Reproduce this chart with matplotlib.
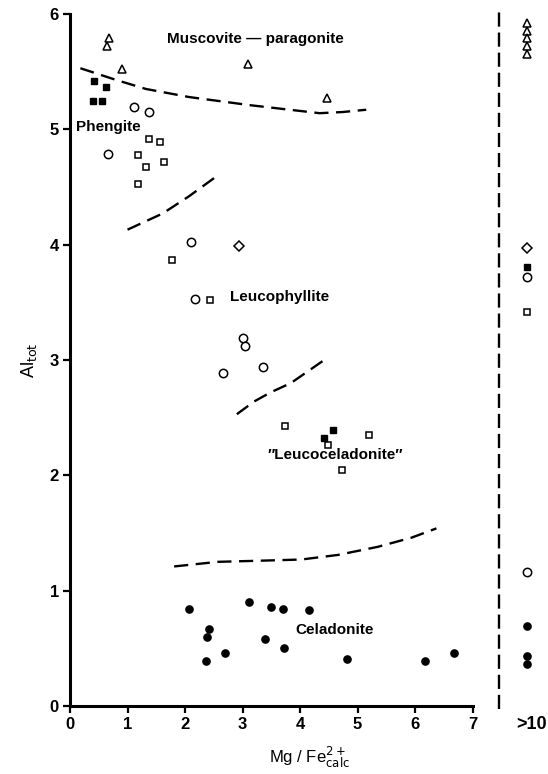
import matplotlib
matplotlib.use("Agg")
import matplotlib.pyplot as plt

# ---------------- data (Mg/Fe2+calc , Al_tot) ----------------
tri_x = [0.67, 0.65, 0.91, 3.09, 4.47]
tri_y = [5.79, 5.72, 5.52, 5.57, 5.27]

fsq_x = [0.41, 0.63, 0.40, 0.55, 4.58, 4.41]
fsq_y = [5.42, 5.37, 5.25, 5.25, 2.39, 2.32]

ocir_x = [1.12, 1.37, 0.66, 2.10, 2.18, 3.01, 3.04, 2.66, 3.36]
ocir_y = [5.19, 5.15, 4.79, 4.02, 3.53, 3.19, 3.12, 2.89, 2.94]

osq_x = [1.37, 1.57, 1.18, 1.63, 1.32, 1.19, 1.78, 2.44, 3.74, 4.48, 5.19, 4.73]
osq_y = [4.92, 4.89, 4.78, 4.72, 4.67, 4.53, 3.87, 3.52, 2.43, 2.26, 2.35, 2.05]

dia_x = [2.94]
dia_y = [3.99]

fcir_x = [2.07, 3.11, 3.49, 3.71, 4.15, 2.41, 2.38, 3.39, 3.72, 2.69, 2.36, 4.81, 6.18, 6.68]
fcir_y = [0.84, 0.90, 0.86, 0.84, 0.83, 0.67, 0.60, 0.58, 0.50, 0.46, 0.39, 0.41, 0.39, 0.46]

# values with Mg/Fe2+calc > 10
gt10_tri_y = [5.92, 5.85, 5.79, 5.72, 5.65]
gt10_dia_y = [3.97]
gt10_fsq_y = [3.81]
gt10_ocir_y = [3.72, 1.16]
gt10_osq_y = [3.42]
gt10_fcir_y = [0.69, 0.43, 0.36]

# field boundaries (dashed)
b1_x = [0.18, 0.79, 1.32, 2.07, 3.12, 3.99, 4.34, 4.74, 5.15]
b1_y = [5.53, 5.43, 5.35, 5.28, 5.21, 5.16, 5.14, 5.15, 5.17]
b2_x = [1.00, 1.61, 2.07, 2.54]
b2_y = [4.13, 4.27, 4.42, 4.59]
b3_x = [2.90, 3.20, 3.49, 3.84, 4.13, 4.39]
b3_y = [2.53, 2.64, 2.72, 2.80, 2.90, 2.99]
b4_x = [1.81, 2.57, 3.32, 4.02, 4.66, 5.35, 5.94, 6.37]
b4_y = [1.21, 1.25, 1.26, 1.27, 1.31, 1.38, 1.46, 1.54]

x_ticks = [0, 1, 2, 3, 4, 5, 6, 7]
y_ticks = [0, 1, 2, 3, 4, 5, 6]

field_labels = ["Muscovite \u2014 paragonite", "Phengite", "Leucophyllite",
                "\u2033Leucoceladonite\u2033", "Celadonite"]
field_x = [3.23, 0.10, 2.78, 4.61, 3.91]
field_y = [5.78, 5.02, 3.55, 2.18, 0.66]
field_ha = ["center", "left", "left", "center", "left"]

# ---------------- layout ----------------
FONT = ["Liberation Sans Narrow", "Liberation Sans", "DejaVu Sans"]
plt.rcParams["font.family"] = FONT

W, H = 548, 774
fig = plt.figure(figsize=(W / 100, H / 100), dpi=100)
ax = fig.add_axes([70 / W, 1 - 706 / H, 1 - 70 / W, (706 - 14) / H])
ax.set_xlim(0, 8.31)
ax.set_ylim(0, 6)

X_GT10 = 7.95      # horizontal position of the ">10" column
X_BREAK = 7.45     # dashed break line

dash = dict(color="black", lw=1.7, ls=(0, (6, 3.2)))
for bx, by in [(b1_x, b1_y), (b2_x, b2_y), (b3_x, b3_y), (b4_x, b4_y)]:
    ax.plot(bx, by, **dash)
ax.plot([X_BREAK, X_BREAK], [-0.03, 6.03], color="black", lw=1.7,
        ls=(0, (6, 2.5)), clip_on=False)

op = dict(ls="none", mfc="white", mec="black", mew=1.1, clip_on=False)
fl = dict(ls="none", mfc="black", mec="black", clip_on=False)

ax.plot(tri_x, tri_y, marker="^", ms=5.5, **op)
ax.plot(ocir_x, ocir_y, marker="o", ms=6, **op)
ax.plot(osq_x, osq_y, marker="s", ms=5, **op)
ax.plot(dia_x, dia_y, marker="D", ms=4.6, **op)
ax.plot(fsq_x, fsq_y, marker="s", ms=5, **fl)
ax.plot(fcir_x, fcir_y, marker="o", ms=5.2, **fl)

ax.plot([X_GT10] * len(gt10_tri_y), gt10_tri_y, marker="^", ms=5.5, **op)
ax.plot([X_GT10] * len(gt10_ocir_y), gt10_ocir_y, marker="o", ms=6, **op)
ax.plot([X_GT10] * len(gt10_osq_y), gt10_osq_y, marker="s", ms=5, **op)
ax.plot([X_GT10] * len(gt10_dia_y), gt10_dia_y, marker="D", ms=4.6, **op)
ax.plot([X_GT10] * len(gt10_fsq_y), gt10_fsq_y, marker="s", ms=5, **fl)
ax.plot([X_GT10] * len(gt10_fcir_y), gt10_fcir_y, marker="o", ms=5.2, **fl)

for t, x, y, ha in zip(field_labels, field_x, field_y, field_ha):
    ax.text(x, y, t, ha=ha, va="center", fontsize=11, fontweight="bold")

# axes styling
for s in ["top", "right"]:
    ax.spines[s].set_visible(False)
ax.spines["left"].set_linewidth(2.2)
ax.spines["bottom"].set_linewidth(2.2)
ax.spines["bottom"].set_bounds(0, 7)
ax.set_xticks(x_ticks)
ax.set_yticks(y_ticks)
ax.set_xticklabels([str(v) for v in x_ticks], fontweight="bold")
ax.set_yticklabels([str(v) for v in y_ticks], fontweight="bold")
ax.tick_params(direction="out", length=5, width=1.6, labelsize=12, pad=3)
ax.text(X_GT10 + 0.08, -0.085, ">10", ha="center", va="top",
        fontsize=13, fontweight="bold")

ax.set_xlabel(r"Mg / Fe$^{2+}_{\rm calc}$", fontsize=12, labelpad=9)
ax.set_ylabel(r"Al$_{\rm tot}$", fontsize=13, labelpad=8)

fig.savefig("out.png", dpi=100)
